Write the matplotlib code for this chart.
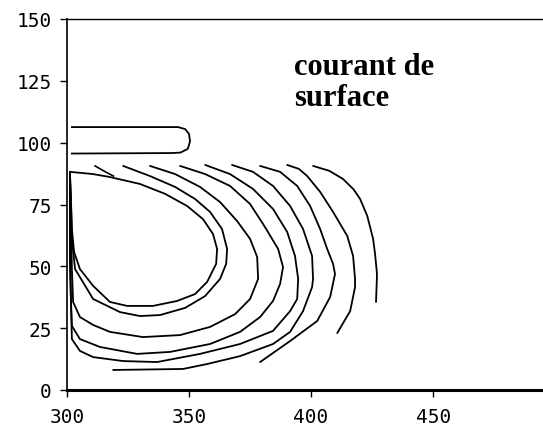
"""
Contours of the surface current ("courant de surface"), redrawn from a scan.
"""

import matplotlib
matplotlib.use("Agg")
import matplotlib.pyplot as plt

# axis ticks
x_ticks = [300, 350, 400, 450]
y_ticks = [0, 25, 50, 75, 100, 125, 150]

# closed loop near the top-left (y 95..106)
top_loop_x = [302.0, 345.5, 348.4, 350.0, 350.4, 349.5, 346.5, 343.0, 302.0]
top_loop_y = [106.3, 106.3, 105.5, 103.5, 100.5, 97.5, 96.0, 95.8, 95.6]

# short stub merging into the inner loop
stub_x = [311.5, 315.0, 319.0]
stub_y = [90.6, 88.6, 86.5]

# contour lines, inner to outer
c1_x = [301.2, 310.7, 317.6, 329.9, 340.2, 349.2, 355.7, 359.8, 361.5, 361.1, 357.4,
        352.5, 345.1, 335.2, 324.6, 317.6, 310.7, 305.3, 302.9, 302.0, 301.6, 301.2]
c1_y = [88.2, 87.3, 86.1, 83.3, 79.3, 74.4, 69.1, 63.1, 57.0, 51.0, 43.7,
        38.8, 36.0, 34.0, 34.0, 35.6, 42.1, 48.9, 55.8, 65.1, 77.2, 88.2]

c2_x = [323.0, 334.0, 344.3, 352.5, 358.6, 363.5, 365.6, 365.2, 362.7, 356.6, 348.4,
        338.1, 329.9, 321.7, 310.7, 303.3, 302.0, 301.6, 301.2]
c2_y = [90.6, 86.5, 82.1, 77.2, 72.0, 65.1, 57.0, 51.0, 44.9, 38.0, 33.2,
        30.3, 29.9, 31.5, 36.8, 48.9, 61.1, 77.2, 87.3]

c3_x = [334.0, 344.3, 354.5, 362.7, 369.7, 375.0, 377.9, 378.3, 375.0, 368.9, 358.6,
        346.3, 331.1, 317.6, 310.7, 305.3, 302.5, 302.0, 301.6, 301.2]
c3_y = [90.6, 87.3, 82.1, 76.0, 68.3, 61.1, 53.8, 44.9, 36.8, 30.7, 25.5,
        22.2, 21.4, 23.5, 26.3, 29.5, 35.6, 48.9, 69.1, 86.1]

c4_x = [346.3, 356.6, 366.8, 375.0, 381.1, 386.5, 388.5, 387.3, 384.4, 379.1, 370.9,
        358.6, 342.2, 328.7, 313.5, 305.3, 302.0, 301.6, 301.2, 301.2, 301.2]
c4_y = [90.6, 87.3, 82.5, 75.2, 65.9, 57.0, 49.7, 42.9, 36.0, 29.5, 23.5,
        18.6, 15.4, 14.6, 17.4, 20.6, 25.9, 36.8, 53.0, 77.2, 86.1]

c5_x = [356.6, 366.8, 376.2, 384.4, 390.2, 393.4, 394.7, 394.3, 391.4, 384.4, 370.9,
        354.5, 336.9, 323.0, 310.7, 305.3, 302.0, 301.6, 301.2, 301.2, 301.2]
c5_y = [91.0, 87.3, 81.3, 73.2, 63.9, 54.2, 44.9, 36.8, 31.9, 23.9, 18.6,
        14.6, 11.3, 11.7, 13.3, 15.8, 20.6, 36.8, 57.0, 77.2, 85.3]

c6_x = [367.6, 376.2, 384.4, 391.4, 396.7, 400.4, 400.8, 400.4, 396.7, 391.4, 384.4,
        370.9, 357.4, 347.5, 318.9]
c6_y = [91.0, 88.2, 82.5, 74.4, 65.1, 54.2, 44.9, 41.6, 31.9, 23.5, 18.6,
        13.7, 10.5, 8.5, 8.1]

c7_x = [379.1, 387.3, 394.3, 399.6, 403.7, 406.6, 409.0, 409.8, 407.8, 402.5, 391.4, 379.1]
c7_y = [90.6, 88.2, 82.5, 74.4, 65.1, 57.0, 51.0, 46.9, 37.6, 27.9, 19.8, 11.3]

c8_x = [390.2, 395.0, 398.4, 403.7, 409.0, 414.8, 417.2, 418.0, 418.0, 416.0, 410.7]
c8_y = [91.0, 89.4, 86.5, 80.1, 72.0, 62.3, 54.2, 44.9, 41.6, 31.9, 23.0]

c9_x = [400.8, 407.5, 413.1, 417.5, 420.1, 423.0, 425.4, 426.2, 427.0, 426.6]
c9_y = [90.6, 88.6, 85.3, 81.0, 77.2, 70.4, 61.1, 55.0, 46.9, 35.6]

contours = [(c1_x, c1_y), (c2_x, c2_y), (c3_x, c3_y), (c4_x, c4_y), (c5_x, c5_y),
            (c6_x, c6_y), (c7_x, c7_y), (c8_x, c8_y), (c9_x, c9_y)]

fig = plt.figure(figsize=(5.43, 4.31), dpi=100)
ax = fig.add_axes([67 / 543, 40 / 431, 476 / 543, 371 / 431])

for cx, cy in contours:
    ax.plot(cx, cy, color="black", lw=1.3, solid_capstyle="round")
ax.plot(top_loop_x, top_loop_y, color="black", lw=1.3)
ax.plot(stub_x, stub_y, color="black", lw=1.2)

# label in two lines, bold serif
ax.text(393, 127.8, "courant de", family="Liberation Serif", weight="bold",
        fontsize=22, va="baseline")
ax.text(393, 115.2, "surface", family="Liberation Serif", weight="bold",
        fontsize=22, va="baseline")

ax.set_xlim(300, 495)
ax.set_ylim(0, 150)
ax.set_xticks(x_ticks)
ax.set_yticks(y_ticks)
ax.tick_params(axis="both", direction="out", length=5, width=1, color="black",
               labelsize=14)
ax.tick_params(axis="y", pad=6)
ax.tick_params(axis="x", pad=7)
for lab in ax.get_xticklabels() + ax.get_yticklabels():
    lab.set_family("DejaVu Sans Mono")

ax.spines["right"].set_visible(False)
ax.spines["top"].set_linewidth(1.0)
ax.spines["left"].set_linewidth(1.2)
ax.spines["bottom"].set_linewidth(2.2)

plt.savefig("out.png", dpi=100)
